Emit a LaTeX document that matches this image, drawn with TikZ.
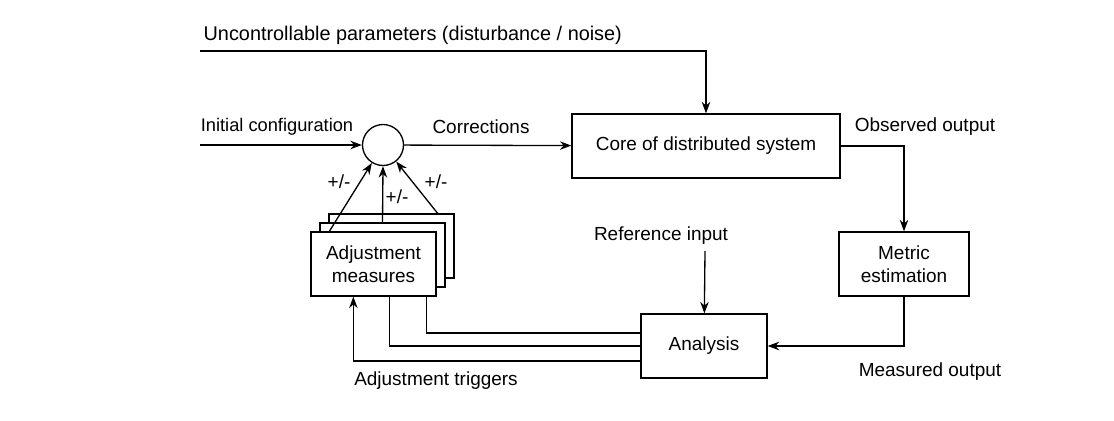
\documentclass[tikz,border=0pt]{standalone}
\usepackage{fontspec}
\setmainfont{Liberation Sans}
\usetikzlibrary{arrows.meta}

\begin{document}
\begin{tikzpicture}[x=0.02cm, y=-0.02cm, >={Stealth[length=2.3mm, width=1.7mm]},
  line width=0.75pt, font=\fontsize{10.8}{13}\selectfont,
  box/.style={draw, rectangle, minimum height=1.28cm, align=center,
    fill=white, inner sep=2pt},
  lbl/.style={inner sep=0pt}]
  \useasboundingbox (0,0) rectangle (1114,420);
  % blocks
  \node[draw, circle, minimum size=0.82cm, inner sep=0pt] (sum) at (383,145) {};
  \node[box, minimum width=5.36cm] (core) at (706,146) {Core of distributed system};
  \node[box, minimum width=2.6cm] (metric) at (904,264) {Metric\\estimation};
  \node[box, minimum width=2.52cm] (analysis) at (704,346) {Analysis};
  \foreach \n/\d in {C/2, B/1} {
    \node[box, minimum width=2.5cm] (adj\n) at (373.5+9*\d, 264-9*\d) {};
  }
  \node[box, minimum width=2.5cm] (adjA) at (373.5,264) {Adjustment\\measures};
  % free ends
  \coordinate (noisein) at (200,51);
  \coordinate (initin) at (200,145);
  \coordinate (refin) at (705,251);
  % labels
  \node[lbl, anchor=west, font=\fontsize{11.3}{13}\selectfont] (noiselbl)
    at (203,35) {Uncontrollable parameters (disturbance / noise)};
  \node[lbl, font=\fontsize{10.4}{13}\selectfont] (initlbl) at (277,127)
    {Initial configuration};
  \node[lbl] (corrlbl) at (481,127) {Corrections};
  \node[lbl] (obslbl) at (925,127) {Observed output};
  \node[lbl] (reflbl) at (661,236) {Reference input};
  \node[lbl] (measlbl) at (930,372) {Measured output};
  \node[lbl] (triglbl) at (436,381) {Adjustment triggers};
  \node[lbl] (pm1) at (339,182) {+/-};
  \node[lbl] (pm2) at (397,197) {+/-};
  \node[lbl] (pm3) at (436,182) {+/-};
  % connectors
  \draw[->] (noisein) -| (core);
  \draw[->] (initin) -- (sum);
  \draw[->] (sum) -- (core);
  \draw[->] (core.east) -| (metric);
  \draw[->] (metric) |- (analysis);
  \draw[->] (refin) -- (analysis);
  \draw[->] ([xshift=0.38cm]adjA.north west) -- (sum);
  \draw[->] (adjB.north) -- (sum.south);
  \draw[->] ([xshift=-0.34cm]adjC.north east) -- (sum);
  \draw ([xshift=-0.2cm]adjA.south east) |- ([yshift=0.26cm]analysis.west);
  \draw ([xshift=1.58cm]adjA.south west) |- (analysis.west);
  \draw[->] ([yshift=-0.3cm]analysis.west) -| ([xshift=0.86cm]adjA.south west);
\end{tikzpicture}
\end{document}
